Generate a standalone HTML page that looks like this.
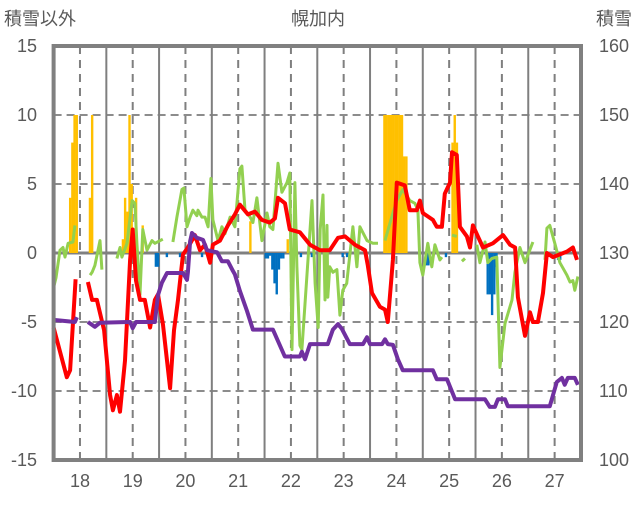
<!DOCTYPE html>
<html><head><meta charset="utf-8">
<style>
html,body{margin:0;padding:0;background:#fff;}
body{width:636px;height:501px;overflow:hidden;}
svg text{font-family:"Liberation Sans","Noto Sans CJK JP",sans-serif;fill:#595959;}
</style></head>
<body>
<svg id="chart" width="636" height="501" viewBox="0 0 636 501" xmlns="http://www.w3.org/2000/svg">
<text x="318" y="25" font-size="18" text-anchor="middle">幌加内</text>
<text x="4" y="25" font-size="18">積雪以外</text>
<text x="632" y="25" font-size="18" text-anchor="end">積雪</text>
<g id="grid"></g>
<g id="bars"></g>
<g id="lines"></g>
<g id="frame"></g>
<g id="ticks"></g>
</svg>
<script>
// time in hours since 17 12:00 (chart left edge)
const dayLabels = ["18","19","20","21","22","23","24","25","26","27"];
const leftTicks = [15,10,5,0,-5,-10,-15];
const rightTicks = [160,150,140,130,120,110,100];

const redH = [0,6,7.5,10,null,15.6,17.5,19.7,23,25.7,27,28.8,30.2,32.5,34.8,36,37.5,39.3,41.5,43.9,46.1,47.5,49.8,51.6,53,54.8,56.6,58.9,61.1,64.3,66.6,68.9,71.2,72.5,75.7,79.3,82.5,84.8,88.4,91.6,94.8,98.4,100.7,102.1,105.3,107.5,112.1,116.7,121.2,125.7,129.4,132.6,137.1,141.7,143,144.9,148.5,150.8,152.1,154.4,156.2,159.8,162.1,165.3,166.7,168,172.6,174.4,176.7,178,180.4,181.3,183.5,184.9,188.1,189.5,190.8,193.1,195.4,199.9,204.5,207.7,210,211.3,214.5,216.8,218.1,220.4,222.7,224.5,227.2,230.4,233.6,236.3,238.2];
const redV = [-5.4,-9,-8.5,-1.9,null,-2.1,-3.4,-3.4,-5.6,-10.3,-11.4,-10.3,-11.5,-7.8,-0.5,1.7,-2,-3.4,-3.4,-5.4,-3.4,-3,-5.2,-7.8,-9.8,-5.6,-3.4,-0.1,0.4,1.3,0.2,0.6,-0.7,0.6,0.9,2,2.8,3.5,2.8,3,2.4,2.2,2.5,4,3.6,1.7,1.5,0.6,0.2,0.2,1.1,1.2,0.6,0.2,-0.9,-2.9,-3.9,-4.1,-5,-0.5,5.1,4.9,3.1,3.1,3.8,2.9,2.4,1.9,1.9,4.3,5.1,7.3,7.1,1.9,1.2,0.4,2,1.2,0.4,0.7,1.3,0.6,0.4,-3.2,-6,-4.3,-5,-5,-2.9,0,-0.3,-0.1,0.1,0.4,-0.5];

const greenH = [0,1.1,2.9,4.3,5.2,6.6,8.8,9.7,null,16.6,17.5,18.8,21.1,22,null,28.8,30.2,31.1,33.4,35.7,37,37.9,39.3,40.6,42.5,44.8,46.1,49.7,null,54.3,56.1,58.4,59.3,60.7,62.1,63.4,65.2,65.7,67.5,68.9,70.3,71.6,72.5,74.8,76.6,78,80.3,82.5,84.8,85.7,87.1,89.4,90.7,92.5,94.8,97.1,98.4,99.8,102.1,103.9,106.2,107.5,108.5,109.8,110.7,112.1,113,117.6,119,120.4,121.3,122.6,123.5,124.4,124.8,125.7,127.1,128.9,130.3,131.6,133.4,136.2,138,139.4,142.6,145.3,147.6,null,150.8,154.4,156.2,158.9,162.1,164.4,165.8,166.7,168,170.3,172.1,173.5,175.8,176.7,null,181.3,183.5,null,185.8,187.2,null,192.6,194,196.3,197.6,199.4,201.7,203.1,205.4,208.6,209.9,212.2,214.5,218.1,null,223.6,224.5,225.8,228.1,230.4,233.6,235,236.3,237.2,238.6];
const greenV = [-2.5,-1.8,0.2,0.4,-0.3,0.7,0.8,2,null,-1.6,-1.4,-0.9,0.9,-1.2,null,-0.4,0.4,-0.3,0.7,3.8,3.6,0.7,-3,1.7,0.2,0.9,0.7,1,null,0.8,2.6,4.6,4.7,1.9,2.6,3.1,2.7,3.1,2.6,2.6,1.9,5.4,2.4,0.9,1.9,1.4,2.6,1.9,6.1,6.3,3.1,2.6,2.2,4,0.9,2.9,1.9,1.7,6.5,4.4,5.1,5.8,-7,5.1,-1,-6.7,-7,3.8,-2.2,-5.4,1.7,4.2,-3.4,2,-3.2,-1,-1.4,-1.2,-4.5,-2.7,-2.2,1.9,-1,1.9,0.9,0.7,0.7,null,0.9,2.9,3.8,4.6,3.8,3.6,3.1,-0.7,-1.6,0.7,-1,0.6,-0.5,-0.3,null,1.3,1.2,null,-0.6,-0.4,null,0.6,-0.7,0.8,-0.7,-0.4,-0.3,-8.3,-5.1,-3.4,-1.4,0.4,-0.7,0.8,null,-0.5,1.8,2,0.7,-0.7,-1.6,-2.1,-2,-2.7,-1.7];

const snowH = [0,9.7,10.6,null,15.6,18.8,21.1,34.8,36,37.5,46.1,47.5,49.3,51.6,58.9,60.7,61.1,62.1,63,65.2,68,69.8,74.4,76.6,79.3,81.6,82.5,84.8,88,90.7,99.8,105.2,112.1,113,114.4,116.7,124.8,127.1,129.4,131.2,134.8,140.8,142.6,144,149.5,150.8,152.1,154.4,156.7,158.9,172.6,174.4,179,182.7,196.3,198.5,200.8,202.2,205.4,206.7,225.8,229,231.3,232.6,234,237.2,238.6];
const snowV = [120.3,120,120.7,null,120,119.3,119.9,120,119.1,120,120,123.9,125.7,127.1,127.1,126.1,127.2,131.7,132.9,132.2,131.9,130.4,130.1,128.8,128.8,127.4,126.9,124.5,121.6,118.9,118.9,115,115,115.7,114.6,116.8,116.8,118.9,119.7,119,116.8,116.8,117.8,116.8,116.8,117.5,116.8,116.7,114.6,113,113,111.7,111.7,108.8,108.8,107.7,107.7,108.8,108.8,107.8,107.8,111.3,111.9,110.9,111.9,111.9,110.9];

const snowfallH = [7,8,9,10,16,17,31,32,33,34,35,37,40,89,106,150,151,152,153,154,155,156,157,158,159,160,181,182,183];
const snowfallV = [4,8,10,10,4,10,1,4,3,10,5,4,2,2.3,1,10,10,10,10,10,10,10,10,10,7,7,8,10,8];
const meltH = [46,47,51,57,61,67,96,97,98,99,100,101,102,103,104,112,117,131,133,169,170,178,197,198,199,200,201,229,230];
const meltV = [-1,-1,-0.3,-0.3,-0.3,-0.3,-0.4,-0.4,-0.2,-1.2,-2.2,-3,-1.2,-0.4,-0.4,-0.3,-0.3,-0.3,-0.3,-0.9,-0.9,-0.3,-3,-3,-4.5,-3,-1,-0.5,-0.5];

const X0=53.6, X1=581, Y0=46, Y1=460;
const HW=(X1-X0)/240;
function xH(h){return X0+h*HW;}
function yL(v){return 253-v*13.8;}
function yR(r){return yL((r-130)/2);}
const NS="http://www.w3.org/2000/svg";
function mk(tag,attrs,parent){const e=document.createElementNS(NS,tag);for(const k in attrs)e.setAttribute(k,attrs[k]);parent.appendChild(e);return e;}

const grid=document.getElementById('grid');
[10,5,-5,-10].forEach(v=>{
  const l=mk('line',{x1:X0,x2:X1,y1:yL(v),y2:yL(v),stroke:'#8c8c8c','stroke-width':2,'stroke-dasharray':'8,5'},grid);
  
  
});
for(let d=0;d<10;d++){
  const xn=xH(12+24*d);
  const l=mk('line',{x1:xn,x2:xn,y1:Y0,y2:Y1,stroke:'#7f7f7f','stroke-width':2,'stroke-dasharray':'8,6'},grid);
  
  
  if(d>0){
    const xm=xH(24*d);
    const m=mk('line',{x1:xm,x2:xm,y1:Y0,y2:Y1,stroke:'#7f7f7f','stroke-width':2},grid);
    
    
  }
}

const bars=document.getElementById('bars');
snowfallH.forEach((h,i)=>{
  const v=snowfallV[i];
  const r=mk('rect',{x:xH(h),y:yL(v),width:HW+0.2,height:yL(0)-yL(v),fill:'#ffc000'},bars);
  
  
});
meltH.forEach((h,i)=>{
  const v=meltV[i];
  const r=mk('rect',{x:xH(h),y:yL(0),width:HW+0.2,height:yL(v)-yL(0),fill:'#0070c0'},bars);
  
  
});

// zero line
const z=mk('line',{x1:X0,x2:X1,y1:yL(0),y2:yL(0),stroke:'#808080','stroke-width':3},grid);



function pathOf(H,V,yf){
  let d='',pen=false;
  for(let i=0;i<H.length;i++){
    if(H[i]===null||V[i]===null){pen=false;continue;}
    d+=(pen?'L':'M')+xH(H[i]).toFixed(1)+','+yf(V[i]).toFixed(1)+' ';
    pen=true;
  }
  return d;
}
const lines=document.getElementById('lines');
const gp=mk('path',{d:pathOf(greenH,greenV,yL),fill:'none',stroke:'#92d050','stroke-width':3,'stroke-linejoin':'round'},lines);


const rp=mk('path',{d:pathOf(redH,redV,yL),fill:'none',stroke:'#ff0000','stroke-width':4,'stroke-linejoin':'round'},lines);


const pp=mk('path',{d:pathOf(snowH,snowV,yR),fill:'none',stroke:'#7030a0','stroke-width':4,'stroke-linejoin':'round'},lines);



const frame=document.getElementById('frame');
const fr=mk('rect',{x:X0,y:Y0,width:X1-X0,height:Y1-Y0,fill:'none',stroke:'#808080','stroke-width':4},frame);



const ticks=document.getElementById('ticks');
leftTicks.forEach(v=>{
  const t=mk('text',{x:37,y:yL(v)+6,'font-size':18,'text-anchor':'end'},ticks);
  t.textContent=v;
  
  
});
rightTicks.forEach(r=>{
  const t=mk('text',{x:599,y:yR(r)+6,'font-size':18},ticks);
  t.textContent=r;
  
  
});
dayLabels.forEach((s,i)=>{
  const t=mk('text',{x:xH(12+24*i),y:487,'font-size':18,'text-anchor':'middle'},ticks);
  t.textContent=s;
  
  
});
</script>
</body></html>
